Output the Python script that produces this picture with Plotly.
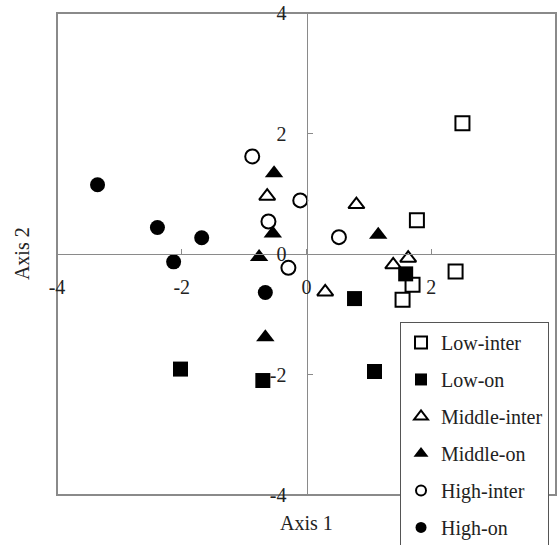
import plotly.graph_objects as go

# ---- data ----
series_names = ["Low-inter", "Low-on", "Middle-inter", "Middle-on", "High-inter", "High-on"]

low_inter_x = [2.50, 1.77, 2.39, 1.70, 1.54]
low_inter_y = [2.17, 0.56, -0.29, -0.51, -0.76]

low_on_x = [1.59, 0.77, -2.02, -0.70, 1.09]
low_on_y = [-0.33, -0.74, -1.91, -2.10, -1.95]

middle_inter_x = [-0.63, 0.30, 0.80, 1.39, 1.63]
middle_inter_y = [0.96, -0.63, 0.82, -0.18, -0.07]

middle_on_x = [-0.52, -0.54, -0.76, -0.66, 1.15]
middle_on_y = [1.34, 0.34, -0.05, -1.38, 0.32]

high_inter_x = [-0.87, -0.61, -0.10, -0.29, 0.52]
high_inter_y = [1.62, 0.54, 0.89, -0.23, 0.28]

high_on_x = [-3.35, -2.39, -1.68, -2.13, -0.66]
high_on_y = [1.15, 0.44, 0.27, -0.13, -0.64]

tick_vals = [-4, -2, 0, 2, 4]
tick_text = ["-4", "-2", "0", "2", "4"]

xs = [low_inter_x, low_on_x, middle_inter_x, middle_on_x, high_inter_x, high_on_x]
ys = [low_inter_y, low_on_y, middle_inter_y, middle_on_y, high_inter_y, high_on_y]
symbols = ["square-open", "square", "triangle-up-open", "triangle-up", "circle-open", "circle"]
sizes = [14, 15, 14, 16, 14, 15]
legend_sizes = [12, 12, 12, 13, 10, 11]

FONT = "Liberation Serif, Times New Roman, serif"
GRAY = "#8a8a8a"

fig = go.Figure()
for name, x, y, sym, s in zip(series_names, xs, ys, symbols, sizes):
    fig.add_trace(go.Scatter(
        x=x, y=y, mode="markers", name=name, showlegend=False,
        marker=dict(symbol=sym, size=s, color="black",
                    line=dict(color="black", width=2 if "open" in sym else 0)),
    ))
# legend entries (smaller symbols, as in the reference legend)
for name, sym, s in zip(series_names, symbols, legend_sizes):
    fig.add_trace(go.Scatter(
        x=[None], y=[None], mode="markers", name=name, legendgroup=name,
        marker=dict(symbol=sym, size=s, color="black",
                    line=dict(color="black", width=2 if "open" in sym else 0)),
    ))

axis_common = dict(
    range=[-4, 4], tickvals=tick_vals, ticktext=tick_text,
    showgrid=False, zeroline=False, showline=True, linecolor=GRAY, linewidth=1,
    ticks="inside", ticklen=5, tickwidth=1, tickcolor=GRAY,
    tickfont=dict(family=FONT, size=20, color="#222"),
    anchor="free", position=0.5, fixedrange=True, automargin=False,
)
fig.update_xaxes(**axis_common, ticklabelstandoff=15)
fig.update_yaxes(**axis_common, ticklabelstandoff=16)

fig.add_shape(type="rect", xref="paper", yref="paper", x0=0, y0=0, x1=1, y1=1,
              line=dict(color=GRAY, width=2), layer="below")

fig.add_annotation(text="Axis 1", xref="paper", yref="paper", x=0.5, y=-0.058,
                   showarrow=False, font=dict(family=FONT, size=20, color="#222"),
                   xanchor="center", yanchor="middle")
fig.add_annotation(text="Axis 2", xref="paper", yref="paper", x=-0.070, y=0.5,
                   showarrow=False, textangle=-90, font=dict(family=FONT, size=20, color="#222"),
                   xanchor="center", yanchor="middle")

fig.update_layout(
    width=558, height=545,
    margin=dict(l=57, r=2, t=13, b=50, autoexpand=False),
    plot_bgcolor="white", paper_bgcolor="white",
    font=dict(family=FONT, size=20, color="#222"),
    legend=dict(x=0.986, y=0.359, xanchor="right", yanchor="top",
                bgcolor="white", bordercolor="#555", borderwidth=1,
                font=dict(family=FONT, size=20, color="#222"),
                tracegroupgap=8, itemwidth=30),
)

fig.write_html("out.html")
